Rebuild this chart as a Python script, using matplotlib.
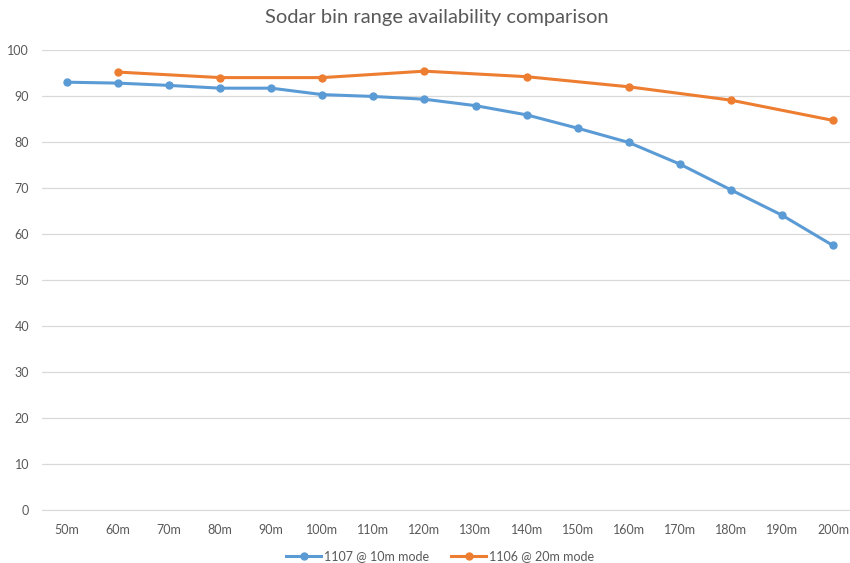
import matplotlib.pyplot as plt
import numpy as np

plt.rcParams['font.family'] = ['Lato', 'DejaVu Sans']

categories = ['50m', '60m', '70m', '80m', '90m', '100m', '110m', '120m',
              '130m', '140m', '150m', '160m', '170m', '180m', '190m', '200m']
s1107 = [93.0, 92.8, 92.3, 91.7, 91.7, 90.3, 89.9, 89.3,
         87.9, 85.9, 83.0, 79.9, 75.2, 69.6, 64.1, 57.5]
s1106 = [np.nan, 95.2, np.nan, 94.0, np.nan, 94.0, np.nan, 95.4,
         np.nan, 94.2, np.nan, 92.0, np.nan, 89.1, np.nan, 84.7]
s1106_x = [1, 3, 5, 7, 9, 11, 13, 15]

grey = '#595959'
fig = plt.figure(figsize=(8.5, 5.63), dpi=100)
ax = fig.add_axes([41.5 / 850, 53 / 563, 817 / 850, 460 / 563])

x = np.arange(len(categories))
ax.plot(x, s1107, color='#5B9BD5', lw=2.2, marker='o', ms=5, label='1107 @ 10m mode')
ax.plot(s1106_x, [s1106[i] for i in s1106_x], color='#ED7D31', lw=2.2, marker='o', ms=5,
        label='1106 @ 20m mode')

ax.set_xlim(-0.5, len(categories) - 0.5)
ax.set_ylim(0, 100)
ax.set_yticks(range(0, 101, 10))
ax.set_xticks(x)
ax.set_xticklabels(categories)
ax.grid(axis='y', color='#d9d9d9', lw=0.9)
ax.set_axisbelow(True)
for s in ['top', 'right', 'left']:
    ax.spines[s].set_visible(False)
ax.spines['bottom'].set_color('#d9d9d9')
ax.tick_params(length=0, colors=grey, labelsize=9, pad=10)
ax.tick_params(axis='y', pad=9)

fig.text(437 / 850, 1 - 18 / 563, 'Sodar bin range availability comparison',
         ha='center', va='center', fontsize=14.5, color=grey)
fig.legend(loc='center', bbox_to_anchor=(440 / 850, 1 - 556 / 563), ncol=2, frameon=False,
           fontsize=9, labelcolor=grey, handlelength=2.8, handletextpad=0.2,
           columnspacing=1.8)

fig.savefig('out.png', dpi=100)
